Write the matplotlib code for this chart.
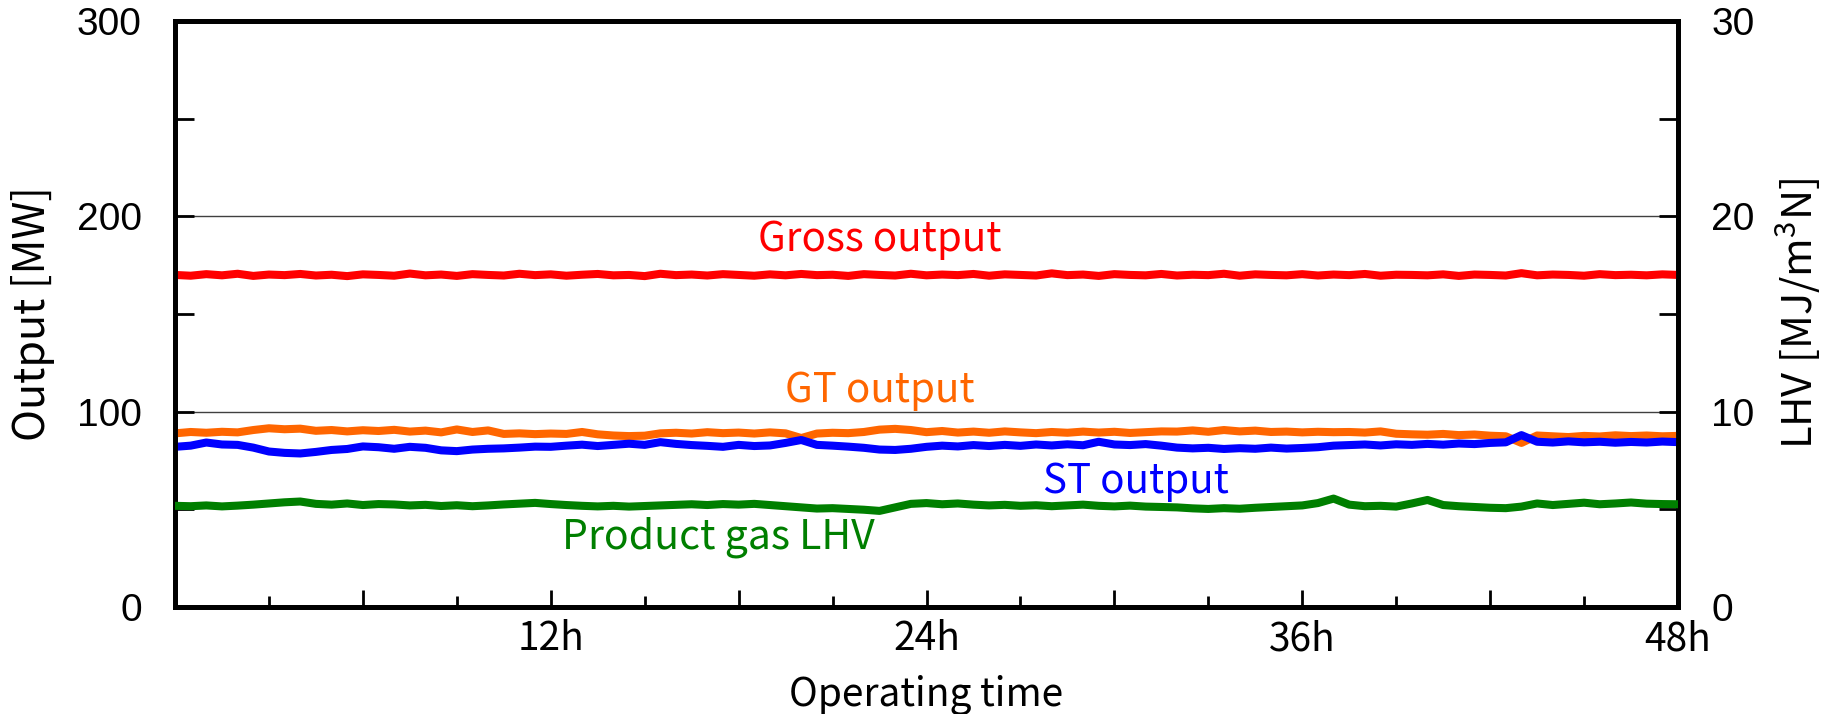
import numpy as np
import matplotlib
matplotlib.use("Agg")
import matplotlib.pyplot as plt
from matplotlib.ticker import MultipleLocator, FuncFormatter

# ---- data (sampled every 0.5 h, 0..48 h) ----
gross_output = [170.0, 169.6, 170.4, 169.8, 170.6, 169.5, 170.2, 169.9, 170.5, 169.7, 170.1, 169.4, 170.3,
                170.0, 169.6, 170.7, 169.8, 170.2, 169.5, 170.4, 170.0, 169.7, 170.6, 169.9, 170.3, 169.6,
                170.1, 170.5, 169.8, 170.0, 169.4, 170.6, 169.9, 170.2, 169.7, 170.4, 170.0, 169.6, 170.3,
                169.8, 170.5, 169.9, 170.1, 169.5, 170.4, 170.0, 169.7, 170.6, 169.8, 170.2, 169.9, 170.5,
                169.6, 170.3, 170.0, 169.7, 170.8, 169.9, 170.2, 169.5, 170.4, 170.0, 169.8, 170.5, 169.7,
                170.1, 169.9, 170.6, 169.6, 170.3, 170.0, 169.8, 170.4, 169.7, 170.2, 169.9, 170.5, 169.6,
                170.1, 170.0, 169.8, 170.3, 169.5, 170.2, 170.0, 169.7, 170.9, 169.8, 170.2, 170.0, 169.6,
                170.4, 169.9, 170.1, 169.8, 170.3, 170.0]

gt_output = [88.9, 89.6, 89.2, 89.7, 89.4, 90.6, 91.5, 91.0, 91.3, 90.2, 90.6, 89.9, 90.5, 90.1, 90.7, 89.8,
             90.3, 89.4, 90.9, 89.6, 90.4, 88.6, 88.9, 88.5, 88.8, 88.6, 89.6, 88.4, 87.8, 87.5, 87.7, 88.9,
             89.2, 88.8, 89.5, 89.0, 89.3, 88.8, 89.4, 88.9, 86.5, 88.8, 89.2, 89.0, 89.6, 90.8, 91.2, 90.6,
             89.5, 90.1, 89.3, 89.8, 89.2, 89.9, 89.4, 89.0, 89.6, 89.2, 89.8, 89.3, 89.7, 89.1, 89.5, 89.9,
             89.8, 90.4, 89.7, 90.6, 89.9, 90.3, 89.6, 89.8, 89.4, 89.7, 89.5, 89.6, 89.3, 89.9, 88.7, 88.4,
             88.2, 88.6, 88.0, 88.3, 87.7, 87.4, 84.0, 87.8, 87.4, 87.0, 87.6, 87.3, 87.9, 87.5, 87.8, 87.4,
             87.6]

st_output = [82.0, 82.6, 84.2, 83.2, 83.0, 81.6, 79.6, 78.9, 78.6, 79.4, 80.4, 80.9, 82.2, 81.8, 81.0, 82.0,
             81.5, 80.2, 79.8, 80.6, 81.0, 81.2, 81.6, 82.1, 82.0, 82.6, 83.1, 82.4, 83.0, 83.6, 83.0, 84.4,
             83.5, 82.9, 82.5, 82.0, 83.0, 82.4, 82.7, 84.0, 85.5, 83.0, 82.6, 82.1, 81.5, 80.6, 80.4, 81.0,
             82.0, 82.6, 82.2, 82.9, 82.4, 83.0, 82.5, 83.2, 82.7, 83.3, 82.8, 84.6, 83.2, 82.9, 83.4, 82.6,
             81.6, 81.2, 81.5, 80.9, 81.3, 81.0, 81.6, 81.1, 81.4, 81.8, 82.6, 82.9, 83.2, 82.7, 83.3, 83.0,
             83.5, 83.1, 83.7, 83.4, 84.0, 84.3, 88.0, 84.6, 84.2, 84.8, 84.3, 84.6, 84.1, 84.5, 84.2, 84.7,
             84.4]

product_gas_lhv = [5.18, 5.16, 5.20, 5.15, 5.19, 5.24, 5.30, 5.36, 5.40, 5.28, 5.24, 5.30, 5.22, 5.27, 5.25,
                   5.20, 5.23, 5.17, 5.21, 5.16, 5.20, 5.25, 5.29, 5.33, 5.27, 5.22, 5.18, 5.15, 5.18, 5.14,
                   5.17, 5.20, 5.23, 5.26, 5.22, 5.27, 5.24, 5.28, 5.22, 5.16, 5.10, 5.04, 5.06, 5.02, 4.98,
                   4.92, 5.10, 5.28, 5.32, 5.26, 5.30, 5.24, 5.20, 5.23, 5.18, 5.21, 5.16, 5.20, 5.24, 5.18,
                   5.15, 5.19, 5.14, 5.12, 5.10, 5.05, 5.02, 5.06, 5.03, 5.08, 5.12, 5.16, 5.20, 5.32, 5.55,
                   5.24, 5.16, 5.18, 5.14, 5.30, 5.48, 5.22, 5.16, 5.12, 5.08, 5.06, 5.14, 5.30, 5.22, 5.28,
                   5.34, 5.26, 5.30, 5.35, 5.29, 5.27, 5.26]

x_tick_labels = {12: "12h", 24: "24h", 36: "36h", 48: "48h"}
left_ticks = [0, 100, 200, 300]
right_ticks = [0, 10, 20, 30]

# ---- figure ----
plt.rcParams["mathtext.default"] = "regular"
W, H = 1832, 714
fig = plt.figure(figsize=(W / 100, H / 100), dpi=100)
ax = fig.add_axes([175 / W, 1 - 607 / H, (1678 - 175) / W, (607 - 21) / H])
ax2 = ax.twinx()

jp = ["Noto Sans CJK JP", "DejaVu Sans"]
num_font = ["Liberation Sans", "DejaVu Sans"]

def t_of(series):
    return np.linspace(0, 48, len(series))

lw = 5.8
ax.plot(t_of(gross_output), gross_output, color="#ff0000", lw=lw, zorder=3)
ax.plot(t_of(gt_output), gt_output, color="#ff6600", lw=lw, zorder=3)
ax.plot(t_of(st_output), st_output, color="#0000ff", lw=lw, zorder=4)
ax2.plot(t_of(product_gas_lhv), product_gas_lhv, color="#007f00", lw=lw, zorder=3)

ax.set_xlim(0, 48)
ax.set_ylim(0, 300)
ax2.set_ylim(0, 30)

# gridlines
for yv in [100, 200]:
    ax.axhline(yv, color="#404040", lw=1.0, zorder=1)

# x ticks
ax.xaxis.set_major_locator(MultipleLocator(6))
ax.xaxis.set_minor_locator(MultipleLocator(3))
ax.xaxis.set_major_formatter(FuncFormatter(lambda v, p: x_tick_labels.get(int(round(v)), "")))
ax.tick_params(axis="x", which="major", direction="in", length=12, width=2, pad=9, top=False,
               labelsize=28)
ax.tick_params(axis="x", which="minor", direction="in", length=8, width=2, top=False)
for lab in ax.get_xticklabels():
    lab.set_family(jp)

# left y ticks
ax.set_yticks(left_ticks)
ax.yaxis.set_minor_locator(MultipleLocator(50))
ax.tick_params(axis="y", which="both", direction="in", length=14, width=2, pad=24, labelsize=28,
               right=False)
for lab in ax.get_yticklabels():
    lab.set_family(num_font)

# right y ticks
ax2.set_yticks(right_ticks)
ax2.yaxis.set_minor_locator(MultipleLocator(5))
ax2.tick_params(axis="y", which="both", direction="in", length=14, width=2, pad=24, labelsize=28,
                left=False)
for lab in ax2.get_yticklabels():
    lab.set_family(num_font)

for a in (ax, ax2):
    for s in a.spines.values():
        s.set_linewidth(3.5)
        s.set_color("black")

ax.set_xlabel("Operating time", fontsize=28, family=jp, va="center")
ax.xaxis.set_label_coords(0.5, (607 - 695) / 586)
ax.set_ylabel("Output [MW]", fontsize=31, family=jp, va="center")
ax.yaxis.set_label_coords((33 - 175) / 1503, 0.5)
ax2.set_ylabel("LHV [MJ/m$^3$N]", fontsize=30, family=jp, va="center")
ax2.yaxis.set_label_coords((1798 - 175) / 1503, 0.5)

# series annotations
ax.text(22.5, 188, "Gross output", color="#ff0000", fontsize=29, family=jp, ha="center", va="center")
ax.text(22.5, 111, "GT output", color="#ff6600", fontsize=29, family=jp, ha="center", va="center")
ax.text(30.7, 64, "ST output", color="#0000ff", fontsize=29, family=jp, ha="center", va="center")
ax.text(17.35, 35.8, "Product gas LHV", color="#007f00", fontsize=29.5, family=jp, ha="center", va="center")

fig.savefig("out.png", dpi=100)
